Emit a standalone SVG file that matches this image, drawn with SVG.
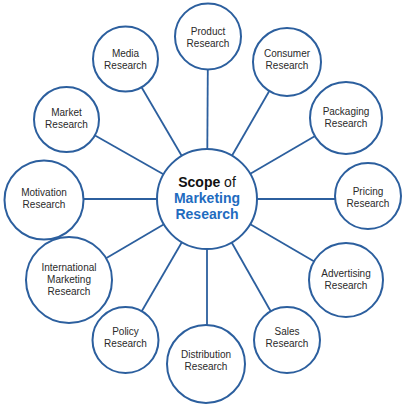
<svg xmlns="http://www.w3.org/2000/svg" width="403" height="407" viewBox="0 0 403 407">
<style>
.c{fill:#fff;stroke:#2c5f9e;stroke-width:2}
.l{stroke:#2c5f9e;stroke-width:1.8;fill:none}
.t{font-family:"Liberation Sans",Arial,sans-serif;font-size:10px;fill:#2a2a2a;text-anchor:middle}
.m{font-family:"Liberation Sans",Arial,sans-serif;font-size:14px;text-anchor:middle;font-weight:bold}
</style>
<rect width="403" height="407" fill="#fff"/>
<g id="connectors">
<line class="l" x1="207" y1="199" x2="208" y2="36"/>
<line class="l" x1="207" y1="199" x2="286" y2="62"/>
<line class="l" x1="207" y1="199" x2="346" y2="118"/>
<line class="l" x1="207" y1="199" x2="368" y2="199"/>
<line class="l" x1="207" y1="199" x2="346" y2="280"/>
<line class="l" x1="207" y1="199" x2="287" y2="340"/>
<line class="l" x1="207" y1="199" x2="207" y2="364"/>
<line class="l" x1="207" y1="199" x2="125" y2="340"/>
<line class="l" x1="207" y1="199" x2="69" y2="280"/>
<line class="l" x1="207" y1="199" x2="44" y2="199"/>
<line class="l" x1="207" y1="199" x2="66" y2="119"/>
<line class="l" x1="207" y1="199" x2="125" y2="59"/>
</g>
<g id="center">
<circle class="c" cx="207" cy="199" r="50"/>
<text class="m" x="207" y="187" fill="#111">Scope <tspan font-weight="normal">of</tspan></text>
<text class="m" x="207" y="203" fill="#1f6cbf">Marketing</text>
<text class="m" x="207" y="219" fill="#1f6cbf">Research</text>
</g>
<g id="product"><circle class="c" cx="208" cy="36.5" r="33"/><text class="t" x="208" y="35">Product</text><text class="t" x="208" y="47">Research</text></g>
<g id="consumer"><circle class="c" cx="287" cy="62" r="34"/><text class="t" x="287" y="57">Consumer</text><text class="t" x="287" y="69">Research</text></g>
<g id="packaging"><circle class="c" cx="346" cy="118" r="36"/><text class="t" x="346" y="115">Packaging</text><text class="t" x="346" y="127">Research</text></g>
<g id="pricing"><circle class="c" cx="368" cy="196" r="33"/><text class="t" x="368" y="195">Pricing</text><text class="t" x="368" y="207">Research</text></g>
<g id="advertising"><circle class="c" cx="346" cy="280" r="37"/><text class="t" x="346" y="277">Advertising</text><text class="t" x="346" y="289">Research</text></g>
<g id="sales"><circle class="c" cx="287" cy="340" r="33"/><text class="t" x="287" y="335">Sales</text><text class="t" x="287" y="347">Research</text></g>
<g id="distribution"><circle class="c" cx="206" cy="364" r="39"/><text class="t" x="206" y="358">Distribution</text><text class="t" x="206" y="370">Research</text></g>
<g id="policy"><circle class="c" cx="125.5" cy="340" r="33"/><text class="t" x="125.5" y="335">Policy</text><text class="t" x="125.5" y="347">Research</text></g>
<g id="international"><circle class="c" cx="69" cy="280" r="43"/><text class="t" x="69" y="271">International</text><text class="t" x="69" y="283">Marketing</text><text class="t" x="69" y="295">Research</text></g>
<g id="motivation"><circle class="c" cx="44" cy="200" r="39.5"/><text class="t" x="44" y="196">Motivation</text><text class="t" x="44" y="208">Research</text></g>
<g id="market"><circle class="c" cx="66.5" cy="119.5" r="32.5"/><text class="t" x="66.5" y="116">Market</text><text class="t" x="66.5" y="128">Research</text></g>
<g id="media"><circle class="c" cx="125.5" cy="59" r="32.5"/><text class="t" x="125.5" y="57">Media</text><text class="t" x="125.5" y="69">Research</text></g>
</svg>
